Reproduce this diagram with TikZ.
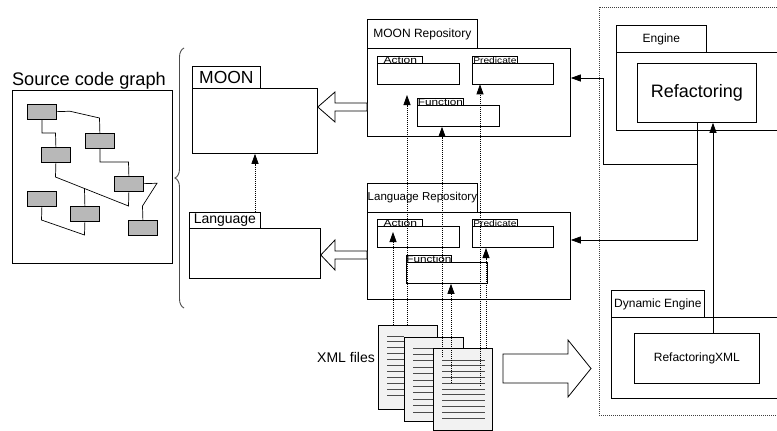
\documentclass[tikz,border=0pt]{standalone}
\usepackage{fontspec}
\setmainfont{Liberation Sans}
\usetikzlibrary{arrows.meta,decorations.pathreplacing,calc}
\newcommand\setfs[1]{\fontsize{#1}{#1}\selectfont}
\newcommand\wlab[2]{\scalebox{#1}[1]{#2}}
\begin{document}
\begin{tikzpicture}[x=1pt,y=-1pt,
  box/.style={draw, line width=0.8pt, fill=white, inner sep=0pt, anchor=north west},
  gbox/.style={box, fill=black!28, minimum width=29pt, minimum height=14.5pt},
  doc/.style={box, fill=black!5, minimum width=59pt, minimum height=84pt},
  smalltab/.style={box, minimum width=45pt, minimum height=7pt},
  smallbox/.style={box, minimum width=82pt, minimum height=20.5pt},
  smalltxt/.style={anchor=base, inner sep=0pt},
  wire/.style={line width=0.7pt},
  docline/.style={line width=1pt, black!70},
  dotarr/.style={line width=0.8pt, dash pattern=on 1pt off 1pt, -{Triangle[length=10pt,width=7pt]}},
  solarr/.style={line width=0.8pt, -{Triangle[length=10pt,width=7pt]}},
  hollow/.style={draw, line width=0.8pt, fill=white},
]
\useasboundingbox (0,0) rectangle (777,431);

% ---------- Source code graph ----------
\node[anchor=base, inner sep=0pt, font=\setfs{18.2}] (srct) at (89,85) {Source code graph};
\node[box, minimum width=160pt, minimum height=173pt] (src) at (12,90) {};
\node[gbox] (g1) at (27,104) {};
\node[gbox] (g2) at (85,133) {};
\node[gbox] (g3) at (41,147) {};
\node[gbox] (g4) at (114,176) {};
\node[gbox] (g5) at (27,191) {};
\node[gbox] (g6) at (70,206) {};
\node[gbox] (g7) at (128,220) {};
\coordinate (d1) at (55.5,177);
\coordinate (d2) at (128.5,206);
\coordinate (d6) at (84.5,188.7);
\draw[wire] (g1.east) -- (70,111.25) -- (99.5,118) -- (g2.north);
\draw[wire] (g1.south) |- (55.5,133) -- (g3.north);
\draw[wire] (g2.south) |- (128.5,162) -- (g4.north);
\draw[wire] (g3.south) -- (d1) -- (d2) -- (g4.south);
\draw[wire] (g6.north) -- (d6);
\draw[wire] (g4.east) -- (157,183.25) -- (142.5,206) -- (g7.north);
\draw[wire] (g5.south) -- (41.5,220) -- (84.5,235) -- (g6.south);

% ---------- brace ----------
\draw[decorate, decoration={brace, amplitude=9pt}, line width=0.9pt, black!70] (184,308) -- (184,48);

% ---------- MOON / Language packages ----------
\node[box, minimum width=68pt, minimum height=22pt, font=\setfs{17.5}] (moontab) at (192,66) {MOON};
\node[box, minimum width=125pt, minimum height=65pt] (moonbox) at (192,88) {};
\node[box, minimum width=71pt, minimum height=16pt, font=\setfs{14}] (langtab) at (189,212) {Language};
\node[box, minimum width=131pt, minimum height=50pt] (langbox) at (189,228) {};
\draw[dotarr] (255,0 |- langtab.north) -- (255,0 |- moonbox.south);

% ---------- MOON Repository ----------
\node[box, minimum width=110pt, minimum height=29pt, font=\setfs{12}] (mrepotab) at (367,19) {MOON Repository};
\node[box, minimum width=203pt, minimum height=88pt] (mrepo) at (367,48) {};
\node[smalltab] (mactt) at (377,56) {};
\node[smallbox] (mact) at (377,63) {};
\node[smalltab] (mpredt) at (472,56) {};
\node[smallbox, minimum width=81pt] (mpred) at (472,63) {};
\node[smalltab, minimum width=46pt] (mfunt) at (417,98) {};
\node[smallbox, minimum height=21pt] (mfun) at (417,105) {};
\node[smalltxt, font=\setfs{9.5}] (mactl) at ([xshift=0.5pt]mactt.south) {\wlab{1.27}{Action}};
\node[smalltxt, font=\setfs{8.5}] (mpredl) at (mpredt.south) {\wlab{1.2}{Predicate}};
\node[smalltxt, font=\setfs{9.5}] (mfunl) at (mfunt.south) {\wlab{1.24}{Function}};

% ---------- Language Repository ----------
\node[box, minimum width=110pt, minimum height=29pt, font=\setfs{11.5}] (lrepotab) at (367,183) {Language Repository};
\node[box, minimum width=203pt, minimum height=87pt] (lrepo) at (367,212) {};
\node[smalltab] (lactt) at (377,219) {};
\node[smallbox, minimum height=21pt] (lact) at (377,226) {};
\node[smalltab] (lpredt) at (472,219) {};
\node[smallbox, minimum width=81pt, minimum height=21pt] (lpred) at (472,226) {};
\node[smalltab] (lfunt) at (406,255) {};
\node[smallbox, minimum width=81pt, minimum height=21pt] (lfun) at (406,262) {};
\node[smalltxt, font=\setfs{9.5}] (lactl) at ([xshift=0.5pt]lactt.south) {\wlab{1.27}{Action}};
\node[smalltxt, font=\setfs{8.5}] (lpredl) at (lpredt.south) {\wlab{1.2}{Predicate}};
\node[smalltxt, font=\setfs{9.5}] (lfunl) at (lfunt.south) {\wlab{1.24}{Function}};

% ---------- hollow arrows to packages ----------
\draw[hollow] (mrepo.west |- 0,103) -- (335,103) -- (335,92) -- (moonbox.east |- 0,107)
  -- (335,122) -- (335,111) -- (mrepo.west |- 0,111) -- cycle;
\draw[hollow] (lrepo.west |- 0,251) -- (335,251) -- (335,240) -- (langbox.east |- 0,255)
  -- (335,270) -- (335,259) -- (lrepo.west |- 0,259) -- cycle;

% ---------- XML files ----------
\node[anchor=base east, inner sep=0pt, font=\setfs{14}] (xmll) at (375,362) {XML files};
\node[doc] (doc1) at (378,325) {};
\foreach \k in {0,...,10} \draw[docline] (387,336+5.9*\k) -- (404,336+5.9*\k);
\node[doc] (doc2) at (404,337) {};
\foreach \k in {0,...,10} \draw[docline] (413,348+6.4*\k) -- (433,348+6.4*\k);
\node[doc, minimum height=82pt] (doc3) at (433,348) {};
\foreach \k in {0,...,10} \draw[docline] (442,360+5.8*\k) -- (485,360+5.8*\k);

% ---------- dotted arrows from XML files ----------
\coordinate (mactin) at (407,95);
\coordinate (lactin) at (393,232);
\draw[dotarr] (393,0 |- doc1.north) -- (lactin);
\draw[dotarr] (407,0 |- doc1.north) -- (mactin);
\draw[dotarr] (442,357) -- (442,0 |- mfun.south);
\draw[dotarr] (451,383) -- (451,0 |- lfun.south);
\draw[dotarr] (480,386) -- (480,0 |- mpred.south);
\draw[dotarr] (486,0 |- doc3.north) -- (486,248);

% ---------- big hollow arrow ----------
\draw[hollow] (503,354) -- (568,354) -- (568,340) -- (591,368.5) -- (568,397) -- (568,383) -- (503,383) -- cycle;

% ---------- engines ----------
\draw[line width=0.6pt, black!75, dash pattern=on 1pt off 1pt] (777,7) -| (599,415) -- (777,415);
\node[box, minimum width=90pt, minimum height=27pt, font=\setfs{12}] (engtab) at (616,25) {Engine};
\draw[line width=0.8pt] (777,52) -| (616,130) -- (777,130);
\node[box, minimum width=119pt, minimum height=59pt, font=\setfs{18}] (ref) at (637,63) {Refactoring};
\node[box, minimum width=93pt, minimum height=27pt, font=\setfs{12}] (dyntab) at (611,290) {Dynamic Engine};
\draw[line width=0.8pt] (777,317) -| (611,398) -- (777,398);
\node[box, minimum width=125pt, minimum height=50pt, font=\setfs{12}] (refxml) at (634,333) {RefactoringXML};

\draw[solarr] (713,0 |- refxml.north) -- (713,0 |- ref.south);
\draw[solarr] (ref.south) |- (603,164) |- (mrepo.east |- 0,78);
\draw[solarr] (ref.south) |- (lrepo.east |- 0,240);
\end{tikzpicture}
\end{document}
